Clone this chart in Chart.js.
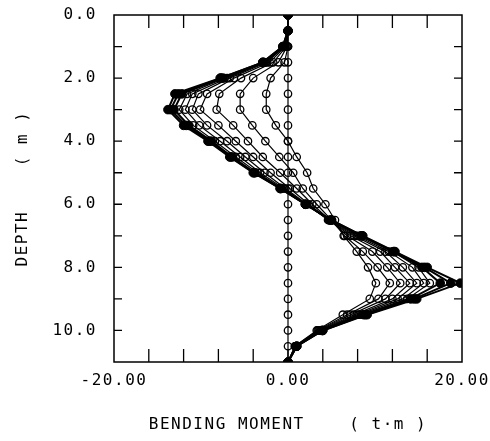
<!DOCTYPE html>
<html>
<head>
<meta charset="utf-8">
<script src="https://cdn.jsdelivr.net/npm/chart.js@4/dist/chart.umd.min.js"></script>
<style>
  html, body { margin: 0; padding: 0; background: #fff; }
  canvas { display: block; }
</style>
</head>
<body>
<canvas id="moment-chart" width="490" height="441"></canvas>
<script>
// depth nodes along the wall (m)
var DEPTHS = [0, 0.5, 1, 1.5, 2, 2.5, 3, 3.5, 4, 4.5, 5, 5.5, 6, 6.5, 7, 7.5, 8, 8.5, 9, 9.5, 10, 10.5, 11];

// bending moment at each node, one array per stage (t·m)
var STAGE_0 = [0, 0, 0, 0, 0, 0, 0, 0, 0, 0, 0, 0, 0, 0, 0, 0, 0, 0, 0, 0, 0, 0, 0];
var STAGE_1 = [0, 0, 0, -0.4, -2.0, -2.5, -2.5, -1.4, 0.0, 1.0, 2.2, 2.9, 4.3, 5.4, 6.4, 7.9, 9.2, 10.1, 9.4, 6.3, 3.3, 0.8, 0];
var STAGE_2 = [0, 0, -0.1, -1.1, -4.0, -5.5, -5.5, -4.1, -2.6, -1.0, 0.6, 1.7, 3.3, 5.0, 6.5, 8.6, 10.3, 11.7, 10.4, 6.8, 3.4, 0.8, 0];
var STAGE_3 = [0, 0, -0.2, -1.7, -5.4, -7.9, -8.2, -6.3, -4.6, -2.9, -0.9, 1.0, 2.8, 4.8, 6.8, 9.7, 11.4, 12.9, 11.2, 7.2, 3.5, 0.9, 0];
var STAGE_4 = [0, 0, -0.3, -2.1, -6.2, -9.3, -10.1, -8.0, -6.0, -4.0, -2.0, 0.2, 2.4, 4.7, 7.2, 10.6, 12.3, 14.0, 12.0, 7.6, 3.6, 0.9, 0];
var STAGE_5 = [0, 0, -0.4, -2.4, -6.7, -10.3, -11.0, -9.3, -7.0, -4.9, -2.7, -0.3, 2.2, 4.6, 7.6, 11.2, 13.2, 14.8, 12.6, 7.9, 3.7, 0.9, 0];
var STAGE_6 = [0, 0, -0.4, -2.6, -7.0, -11.0, -11.8, -10.2, -7.8, -5.5, -3.2, -0.5, 2.1, 4.7, 7.9, 11.6, 14.3, 15.6, 13.2, 8.2, 3.8, 1.0, 0];
var STAGE_7 = [0, 0, -0.5, -2.7, -7.3, -11.6, -12.5, -10.9, -8.4, -6.0, -3.5, -0.7, 2.0, 4.8, 8.2, 12.0, 15.0, 16.3, 13.7, 8.5, 3.8, 1.0, 0];
var STAGE_8 = [0, 0, -0.5, -2.8, -7.5, -12.2, -13.1, -11.4, -8.8, -6.4, -3.8, -0.8, 2.0, 4.9, 8.4, 12.1, 15.4, 17.5, 14.1, 8.7, 3.9, 1.0, 0];
var STAGE_9 = [0, 0, -0.6, -2.9, -7.7, -12.6, -13.5, -11.7, -9.0, -6.6, -3.9, -0.9, 2.0, 5.0, 8.5, 12.2, 15.7, 18.7, 14.5, 8.9, 4.0, 1.0, 0];
var STAGE_10 = [0, 0, -0.6, -2.9, -7.8, -13.0, -13.8, -12.0, -9.2, -6.7, -4.0, -0.9, 2.0, 5.0, 8.6, 12.3, 16.0, 19.8, 14.8, 9.1, 4.0, 1.0, 0];

// open markers for the early stages, solid for the last ones
var OPEN_STAGES = [STAGE_0, STAGE_1, STAGE_2, STAGE_3, STAGE_4, STAGE_5, STAGE_6, STAGE_7];
var SOLID_STAGES = [STAGE_8, STAGE_9, STAGE_10];

var X_LABELS = [-20, 0, 20];

Chart.defaults.font.family = "'DejaVu Sans Mono', monospace";
Chart.defaults.font.size = 16;
Chart.defaults.color = '#000';

function toPoints(values) {
  return values.map(function(m, i) { return { x: m, y: DEPTHS[i] }; });
}

var datasets = [];
OPEN_STAGES.forEach(function(s) {
  datasets.push({
    data: toPoints(s),
    showLine: true,
    borderColor: '#000',
    borderWidth: 1.2,
    pointStyle: 'circle',
    pointRadius: 3.7,
    pointBorderWidth: 1.3,
    pointBorderColor: '#000',
    pointBackgroundColor: 'rgba(0,0,0,0)'
  });
});
SOLID_STAGES.forEach(function(s) {
  datasets.push({
    data: toPoints(s),
    showLine: true,
    borderColor: '#000',
    borderWidth: 2,
    pointStyle: 'circle',
    pointRadius: 4.3,
    pointBorderWidth: 1,
    pointBorderColor: '#000',
    pointBackgroundColor: '#000'
  });
});

// wider plotter-style lettering
var spacedText = {
  id: 'spacedText',
  beforeUpdate: function(chart) { chart.ctx.letterSpacing = '1.5px'; },
  beforeDraw: function(chart) { chart.ctx.letterSpacing = '1.5px'; }
};

// box around the plot with inward tick marks on every side
var frameTicks = {
  id: 'frameTicks',
  beforeDatasetsDraw: function(chart) {
    var ctx = chart.ctx, a = chart.chartArea;
    var xs = chart.scales.x, ys = chart.scales.y;
    ctx.save();
    ctx.strokeStyle = '#000';
    ctx.lineWidth = 1.5;
    ctx.strokeRect(a.left, a.top, a.right - a.left, a.bottom - a.top);
    ctx.lineWidth = 1.3;
    ctx.beginPath();
    xs.ticks.forEach(function(t) {
      if (t.value <= xs.min || t.value >= xs.max) return;
      var px = xs.getPixelForValue(t.value);
      ctx.moveTo(px, a.bottom); ctx.lineTo(px, a.bottom - 13);
      ctx.moveTo(px, a.top); ctx.lineTo(px, a.top + 13);
    });
    ys.ticks.forEach(function(t) {
      if (t.value <= ys.min || t.value >= ys.max) return;
      var py = ys.getPixelForValue(t.value);
      ctx.moveTo(a.left, py); ctx.lineTo(a.left + 8, py);
      ctx.moveTo(a.right, py); ctx.lineTo(a.right - 8, py);
    });
    ctx.stroke();
    ctx.restore();
  }
};

new Chart(document.getElementById('moment-chart'), {
  type: 'scatter',
  data: { datasets: datasets },
  plugins: [spacedText, frameTicks],
  options: {
    responsive: false,
    animation: false,
    layout: { padding: { left: 0, right: 28, top: 15, bottom: 0 } },
    plugins: { legend: { display: false }, tooltip: { enabled: false } },
    elements: { line: { tension: 0 } },
    scales: {
      x: {
        type: 'linear',
        min: -20,
        max: 20,
        grid: { display: false, drawTicks: false },
        border: { display: false },
        ticks: {
          stepSize: 4,
          autoSkip: false,
          maxRotation: 0,
          padding: 9,
          callback: function(v) { return X_LABELS.indexOf(v) >= 0 ? v.toFixed(2) : ''; }
        },
        title: {
          display: true,
          text: 'BENDING MOMENT    ( t\u00b7m )',
          padding: { top: 0, bottom: 7 }
        },
        afterFit: function(scale) {
          scale.height = 79;
          scale.paddingLeft = 0;
          scale.paddingRight = 0;
        }
      },
      y: {
        type: 'linear',
        reverse: true,
        min: 0,
        max: 11,
        grid: { display: false, drawTicks: false },
        border: { display: false },
        ticks: {
          stepSize: 1,
          autoSkip: false,
          padding: 17,
          callback: function(v) { return v % 2 === 0 ? v.toFixed(1) : ''; }
        },
        title: {
          display: true,
          text: 'DEPTH    ( m )',
          padding: { top: 13, bottom: 0 }
        },
        afterFit: function(scale) {
          scale.width = 114;
          scale.paddingTop = 0;
          scale.paddingBottom = 0;
        }
      }
    }
  }
});
</script>
</body>
</html>
